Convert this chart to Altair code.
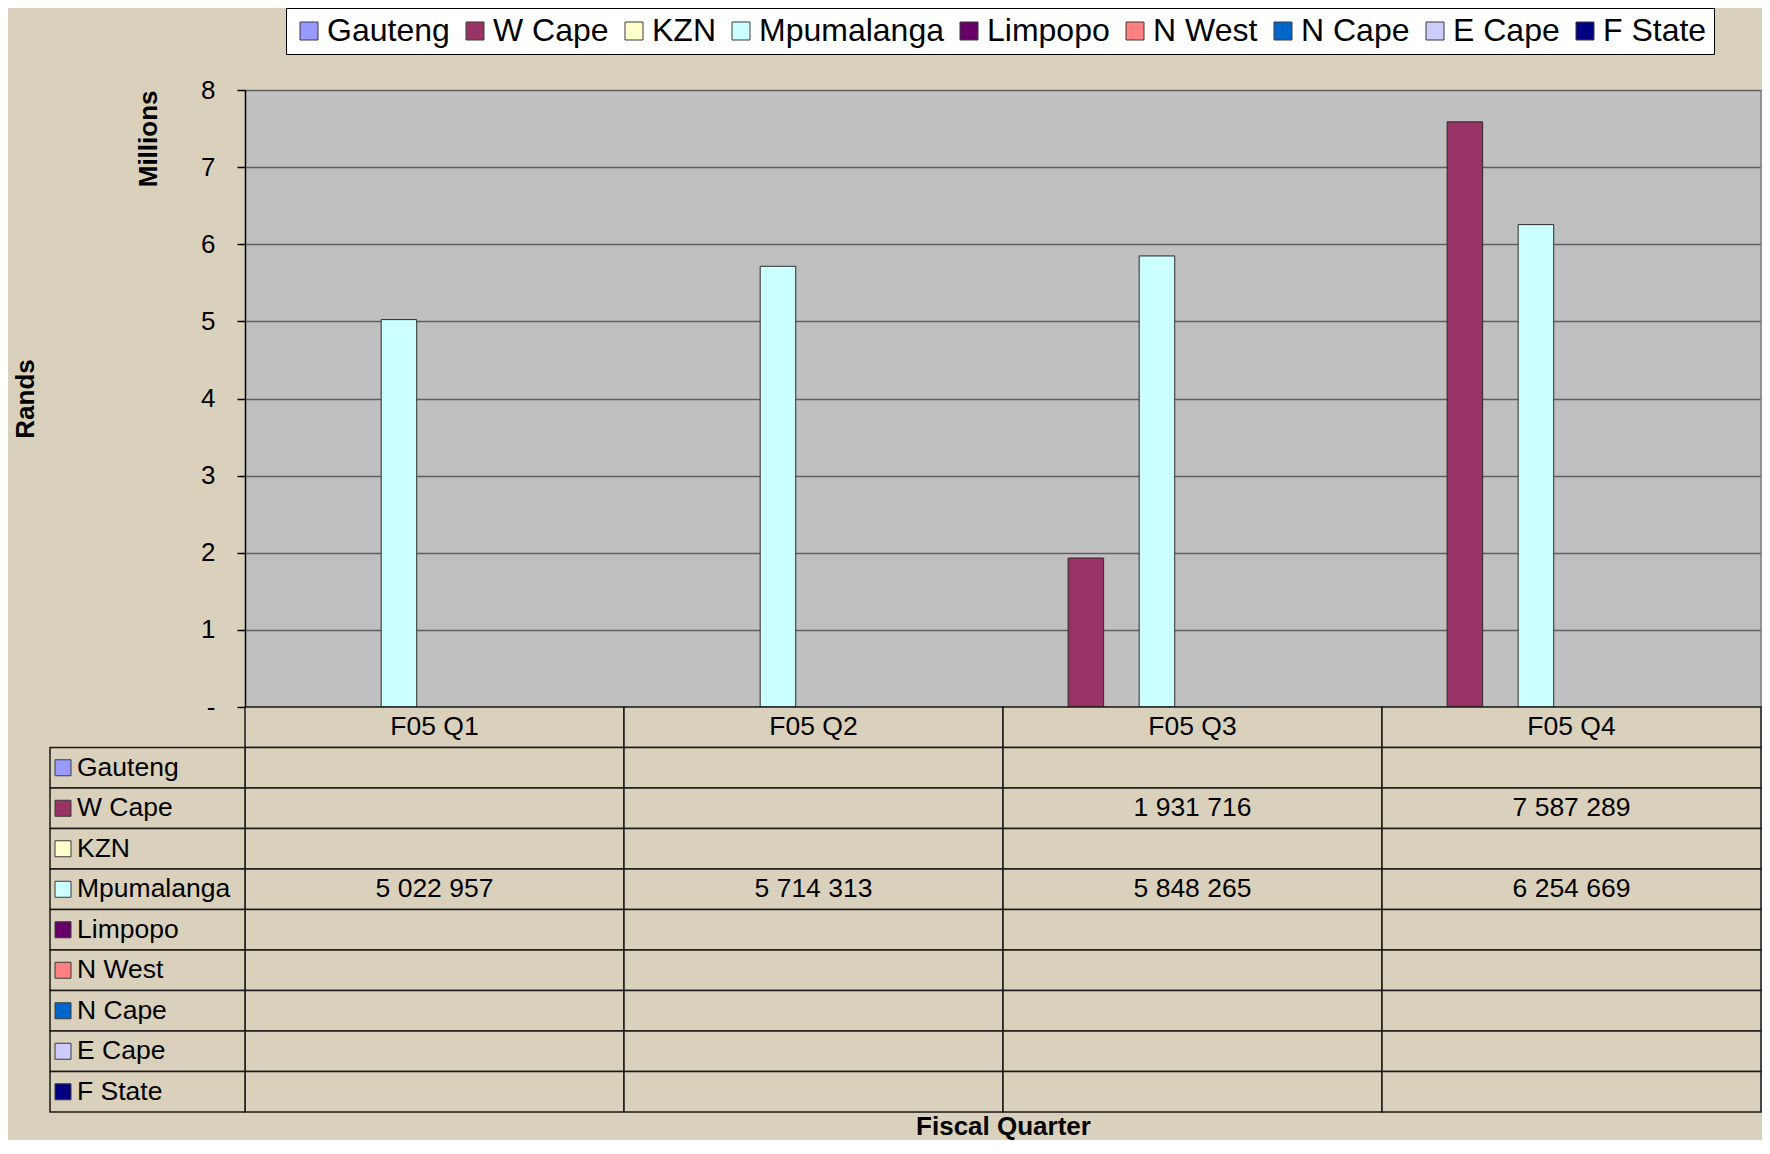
import altair as alt
import pandas as pd

# ---------------- data ----------------
quarters = ["F05 Q1", "F05 Q2", "F05 Q3", "F05 Q4"]
series = ["Gauteng", "W Cape", "KZN", "Mpumalanga", "Limpopo",
          "N West", "N Cape", "E Cape", "F State"]
series_colors = ["#9999FF", "#993366", "#FFFFCC", "#CCFFFF", "#660066",
                 "#FF8080", "#0066CC", "#CCCCFF", "#000080"]
w_cape = [None, None, 1931716, 7587289]
mpumalanga = [5022957, 5714313, 5848265, 6254669]
y_ticks_millions = [0, 1, 2, 3, 4, 5, 6, 7, 8]

FONT = "Liberation Sans"
HEADER = " "
BG = "#DAD1BD"
TAB_FS = 26.5

values_by_series = {"W Cape": w_cape, "Mpumalanga": mpumalanga}

records = []
for s in series:
    vals = values_by_series.get(s, [None] * len(quarters))
    for q, v in zip(quarters, vals):
        records.append({
            "quarter": q, "series": s, "value": v,
            "label": "" if v is None else f"{v:,}".replace(",", " "),
        })
data = pd.DataFrame(records)
bars_df = data[data["value"].notna()].copy()

color_scale = alt.Scale(domain=series, range=series_colors)

PLOT_W, PLOT_H, TABLE_H = 1516, 617, 405
TOTAL_H = PLOT_H + TABLE_H

y_val_scale = alt.Scale(domain=[0, 8000000], range=[PLOT_H, 0], nice=False)

# ---------------- bar chart ----------------
bars = alt.Chart(bars_df).mark_bar(stroke="#2b2b2b", strokeWidth=1).encode(
    x=alt.X("quarter:N",
            scale=alt.Scale(domain=quarters, paddingInner=0.156, paddingOuter=0.078),
            axis=None),
    xOffset=alt.XOffset("series:N", scale=alt.Scale(domain=series)),
    y=alt.Y("value:Q", scale=y_val_scale,
            axis=alt.Axis(
                orient="left",
                values=[t * 1000000 for t in y_ticks_millions],
                labelExpr="datum.value == 0 ? '-' : format(datum.value / 1000000, 'd')",
                title="Rands", titleAnchor="middle", titleFontSize=26,
                titleFontWeight="bold", titleFont=FONT, titleColor="black",
                titlePadding=162,
                labelFontSize=26, labelFont=FONT, labelColor="black", labelPadding=22,
                domainColor="black", domainWidth=1.5,
                tickColor="black", tickSize=8, tickWidth=1.5,
                gridColor="#5f5f5f", gridWidth=1.5, gridOpacity=1,
            )),
    color=alt.Color("series:N", scale=color_scale, legend=alt.Legend(
        orient="none", legendX=41, legendY=-82, direction="horizontal", columns=9,
        title=None, symbolType="square", symbolSize=324,
        symbolStrokeColor="#3a3a3a", symbolStrokeWidth=1,
        labelFontSize=32, labelFont=FONT, labelColor="black", labelLimit=400,
        labelOffset=2, columnPadding=9, fillColor="white", strokeColor="black",
        padding=7, cornerRadius=0,
    )),
)

# right-hand frame of the plot area (also carries the "Millions" unit title)
frame_df = pd.DataFrame({"lo": [0], "hi": [8000000]})
frame = alt.Chart(frame_df).mark_rule(color="#808080", strokeWidth=1.5).encode(
    x=alt.value(PLOT_W),
    y=alt.Y("lo:Q", scale=y_val_scale,
            axis=alt.Axis(orient="left", labels=False, ticks=False, domain=False, grid=False,
                          title="Millions", titleAnchor="end", titleFontSize=26,
                          titleFontWeight="bold", titleFont=FONT, titleColor="black",
                          titlePadding=84)),
    y2="hi:Q",
)

bar_group = alt.layer(bars, frame).resolve_axis(y="independent")

# ---------------- data table ----------------
rows_domain = [HEADER] + series
cells_df = pd.DataFrame([{"quarter": q, "row": r} for r in rows_domain for q in quarters])
header_df = pd.DataFrame({"quarter": quarters, "row": [HEADER] * len(quarters), "text": quarters})
value_df = data[data["label"] != ""].rename(columns={"series": "row"})[["quarter", "row", "label"]]
label_df = pd.DataFrame({"row": series, "series": series})

x_tab = alt.X("quarter:N", scale=alt.Scale(domain=quarters, paddingInner=0, paddingOuter=0),
              axis=alt.Axis(title="Fiscal Quarter", labels=False, ticks=False, domain=False,
                            grid=False, titleFontSize=26, titleFontWeight="bold", titleFont=FONT,
                            titleColor="black", titlePadding=1))
y_tab = alt.Y("row:N", scale=alt.Scale(domain=rows_domain, range=[PLOT_H, TOTAL_H],
                                       paddingInner=0, paddingOuter=0),
              axis=None)

grid = alt.Chart(cells_df).mark_rect(fill=BG, stroke="#1a1a1a", strokeWidth=1.5).encode(
    x=x_tab, y=y_tab)
header_txt = alt.Chart(header_df).mark_text(fontSize=TAB_FS, font=FONT, color="black",
                                            baseline="middle").encode(
    x=x_tab, y=y_tab, text="text:N")
value_txt = alt.Chart(value_df).mark_text(fontSize=TAB_FS, font=FONT, color="black",
                                          baseline="middle").encode(
    x=x_tab, y=y_tab, text="label:N")
label_box = alt.Chart(label_df).mark_rect(fill=BG, stroke="#1a1a1a", strokeWidth=1.5).encode(
    y=y_tab, x=alt.value(-195), x2=alt.value(0))
swatch = alt.Chart(label_df).mark_point(shape="square", filled=True, size=256, stroke="#3a3a3a",
                                        strokeWidth=1, opacity=1).encode(
    y=y_tab, x=alt.value(-182),
    color=alt.Color("series:N", scale=color_scale, legend=None))
label_txt = alt.Chart(label_df).mark_text(fontSize=TAB_FS, font=FONT, color="black", align="left",
                                          baseline="middle").encode(
    y=y_tab, x=alt.value(-168), text="series:N")

table_group = alt.layer(grid, header_txt, value_txt, label_box, swatch, label_txt)

chart = alt.layer(bar_group, table_group).resolve_scale(
    x="independent", y="independent", color="independent"
).properties(
    width=PLOT_W, height=TOTAL_H,
    autosize=alt.AutoSizeParams(type="none"),
    view=alt.ViewBackground(fill="#C0C0C0", stroke="transparent"),
).configure(
    font=FONT, background=BG,
    padding={"left": 237, "top": 82, "right": 1, "bottom": 28},
)

chart.save("out.html", embed_options={"renderer": "svg", "actions": False})
